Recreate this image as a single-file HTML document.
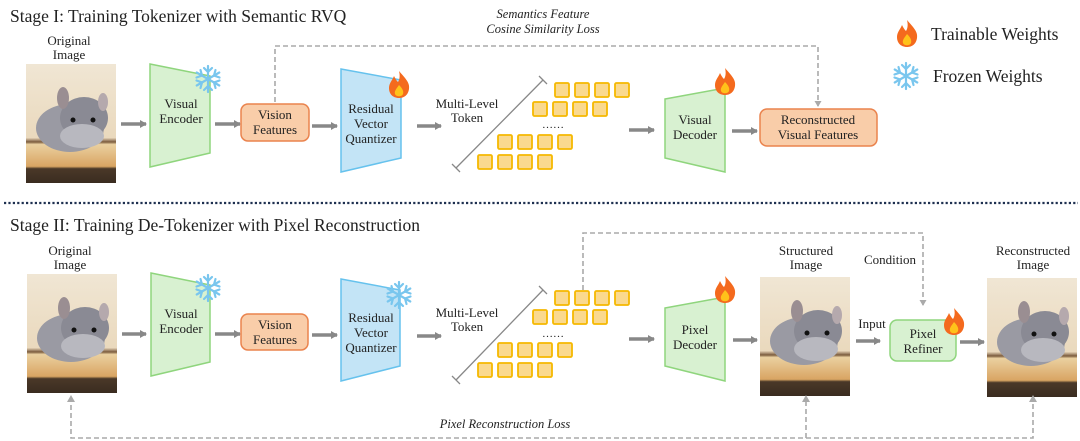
<!DOCTYPE html>
<html><head><meta charset="utf-8"><style>
html,body{margin:0;padding:0;background:#fff;}
svg{display:block;}
text{font-family:"Liberation Serif",serif;fill:#222;}
.l{font-size:13px;text-anchor:middle;}
.t{font-size:17.5px;}
.i{font-style:italic;font-size:12.5px;text-anchor:middle;}
</style></head><body>
<svg width="1080" height="441" viewBox="0 0 1080 441" xmlns="http://www.w3.org/2000/svg">
<defs>
<linearGradient id="bg" x1="0" y1="0" x2="0" y2="1">
<stop offset="0" stop-color="#f0e6d4"/><stop offset="0.62" stop-color="#ead9bd"/>
<stop offset="0.655" stop-color="#7a5a3c"/><stop offset="0.675" stop-color="#ead0a0"/>
<stop offset="0.86" stop-color="#d9a563"/><stop offset="0.88" stop-color="#4a3828"/><stop offset="1" stop-color="#3a2c20"/>
</linearGradient>
<g id="chin">
<rect x="0" y="0" width="90" height="119" fill="url(#bg)"/>
<ellipse cx="44" cy="64" rx="34" ry="24" fill="#9a9aa3"/>
<ellipse cx="58" cy="54" rx="24" ry="21" fill="#8a8a94"/>
<ellipse cx="37" cy="34" rx="6" ry="11" fill="#9a8e92"/>
<ellipse cx="77" cy="38" rx="5" ry="9" fill="#b5a9ad"/>
<ellipse cx="56" cy="72" rx="22" ry="12" fill="#b8b8bf"/>
<circle cx="47" cy="56" r="2.5" fill="#111"/><circle cx="67" cy="56" r="2.5" fill="#111"/>
</g>
<g id="flame">
<path d="M0,-14 C7,-6 11,-2 10,4 C9,11 4,13 0,13 C-5,13 -10,10 -10,3 C-10,-2 -7,-4 -5,-9 C-3,-5 -2,-4 -1,-3 C1,-6 1,-10 0,-14Z" fill="#f46a1e"/>
<path d="M0,0 C3,3 5,6 4,9 C3,12 -3,12 -4,9 C-5,6 -2,3 0,0Z" fill="#ffc21a"/>
</g>
<g id="snow" stroke="#79c6ee" stroke-width="2.2" stroke-linecap="round" fill="none">
<path d="M0,-13V13M-11.3,-6.5L11.3,6.5M-11.3,6.5L11.3,-6.5"/>
<path d="M-4,-11L0,-7L4,-11M-4,11L0,7L4,11M-11.5,-1.5L-6,-3.5L-7.5,-9M11.5,1.5L6,3.5L7.5,9M-11.5,1.5L-6,3.5L-7.5,9M11.5,-1.5L6,-3.5L7.5,-9"/>
</g>
<marker id="ar" markerWidth="8" markerHeight="8" refX="6" refY="4" orient="auto" markerUnits="userSpaceOnUse"><path d="M0,0L7,4L0,8Z" fill="#888"/></marker>
<marker id="da" markerWidth="8" markerHeight="8" refX="5" refY="4" orient="auto" markerUnits="userSpaceOnUse"><path d="M0,0.5L6,4L0,7.5Z" fill="#aaa"/></marker>
<g id="tok" fill="#fad98f" stroke="#f5b800" stroke-width="1.8">
<rect x="77" y="3" width="14" height="14" rx="1.5"/><rect x="97" y="3" width="14" height="14" rx="1.5"/><rect x="117" y="3" width="14" height="14" rx="1.5"/><rect x="137" y="3" width="14" height="14" rx="1.5"/>
<rect x="55" y="22" width="14" height="14" rx="1.5"/><rect x="75" y="22" width="14" height="14" rx="1.5"/><rect x="95" y="22" width="14" height="14" rx="1.5"/><rect x="115" y="22" width="14" height="14" rx="1.5"/>
<rect x="20" y="55" width="14" height="14" rx="1.5"/><rect x="40" y="55" width="14" height="14" rx="1.5"/><rect x="60" y="55" width="14" height="14" rx="1.5"/><rect x="80" y="55" width="14" height="14" rx="1.5"/>
<rect x="0" y="75" width="14" height="14" rx="1.5"/><rect x="20" y="75" width="14" height="14" rx="1.5"/><rect x="40" y="75" width="14" height="14" rx="1.5"/><rect x="60" y="75" width="14" height="14" rx="1.5"/>
</g>
</defs>

<!-- STAGE I -->
<text x="10" y="22" class="t">Stage I: Training Tokenizer with Semantic RVQ</text>
<text x="69" y="45" class="l">Original</text><text x="69" y="59" class="l">Image</text>
<use href="#chin" x="26" y="64"/>
<line x1="121" y1="124" x2="146" y2="124" stroke="#888" stroke-width="3.5" marker-end="url(#ar)"/>
<polygon points="150,64 210,76 210,153 150,167" fill="#d8f1d1" stroke="#8fd57d" stroke-width="1.5"/>
<text x="181" y="108" class="l">Visual</text><text x="181" y="123" class="l">Encoder</text>
<use href="#snow" x="208" y="79"/>
<line x1="215" y1="124" x2="240" y2="124" stroke="#888" stroke-width="3.5" marker-end="url(#ar)"/>
<rect x="241" y="104" width="68" height="37" rx="7" fill="#f9cda9" stroke="#ea834d" stroke-width="1.5"/>
<text x="275" y="119" class="l">Vision</text><text x="275" y="134" class="l">Features</text>
<path d="M275,102V46H818V106" fill="none" stroke="#aaa" stroke-width="1.6" stroke-dasharray="5,3" marker-end="url(#da)"/>
<text x="543" y="18" class="i">Semantics Feature</text><text x="543" y="33" class="i">Cosine Similarity Loss</text>
<line x1="312" y1="126" x2="337" y2="126" stroke="#888" stroke-width="3.5" marker-end="url(#ar)"/>
<polygon points="341,69 401,80 401,158 341,172" fill="#c3e4f6" stroke="#66c2ed" stroke-width="1.5"/>
<text x="371" y="113" class="l">Residual</text><text x="371" y="128" class="l">Vector</text><text x="371" y="143" class="l">Quantizer</text>
<use href="#flame" x="399" y="85"/>
<line x1="417" y1="126" x2="441" y2="126" stroke="#888" stroke-width="3.5" marker-end="url(#ar)"/>
<text x="467" y="108" class="l">Multi-Level</text><text x="467" y="122" class="l">Token</text>
<path d="M456,168L543,80M452,164L460,172M539,76L547,84" stroke="#888" stroke-width="1.3" fill="none"/>
<use href="#tok" x="478" y="80"/>
<text x="553" y="128" class="l" style="font-size:11px">……</text>
<line x1="629" y1="130" x2="654" y2="130" stroke="#888" stroke-width="3.5" marker-end="url(#ar)"/>
<polygon points="665,99 725,88 725,172 665,158" fill="#d8f1d1" stroke="#8fd57d" stroke-width="1.5"/>
<text x="695" y="124" class="l">Visual</text><text x="695" y="139" class="l">Decoder</text>
<use href="#flame" x="725" y="82"/>
<line x1="732" y1="131" x2="757" y2="131" stroke="#888" stroke-width="3.5" marker-end="url(#ar)"/>
<rect x="760" y="109" width="117" height="37" rx="7" fill="#f9cda9" stroke="#ea834d" stroke-width="1.5"/>
<text x="818" y="124" class="l">Reconstructed</text><text x="818" y="139" class="l">Visual Features</text>

<use href="#flame" x="907" y="34"/>
<text x="931" y="40" class="t">Trainable Weights</text>
<use href="#snow" x="906" y="76"/>
<text x="933" y="82" class="t">Frozen Weights</text>

<line x1="4" y1="203" x2="1078" y2="203" stroke="#1e3050" stroke-width="2.2" stroke-dasharray="2.2,2.2"/>

<!-- STAGE II -->
<text x="10" y="231" class="t">Stage II: Training De-Tokenizer with Pixel Reconstruction</text>
<text x="70" y="255" class="l">Original</text><text x="70" y="269" class="l">Image</text>
<use href="#chin" x="27" y="274"/>
<line x1="122" y1="334" x2="146" y2="334" stroke="#888" stroke-width="3.5" marker-end="url(#ar)"/>
<polygon points="151,273 210,285 210,362 151,376" fill="#d8f1d1" stroke="#8fd57d" stroke-width="1.5"/>
<text x="181" y="318" class="l">Visual</text><text x="181" y="333" class="l">Encoder</text>
<use href="#snow" x="208" y="288"/>
<line x1="215" y1="334" x2="240" y2="334" stroke="#888" stroke-width="3.5" marker-end="url(#ar)"/>
<rect x="241" y="314" width="67" height="36" rx="7" fill="#f9cda9" stroke="#ea834d" stroke-width="1.5"/>
<text x="275" y="329" class="l">Vision</text><text x="275" y="344" class="l">Features</text>
<line x1="312" y1="335" x2="337" y2="335" stroke="#888" stroke-width="3.5" marker-end="url(#ar)"/>
<polygon points="341,279 400,290 400,366 341,381" fill="#c3e4f6" stroke="#66c2ed" stroke-width="1.5"/>
<text x="371" y="322" class="l">Residual</text><text x="371" y="337" class="l">Vector</text><text x="371" y="352" class="l">Quantizer</text>
<use href="#snow" x="399" y="295"/>
<line x1="417" y1="336" x2="441" y2="336" stroke="#888" stroke-width="3.5" marker-end="url(#ar)"/>
<text x="467" y="317" class="l">Multi-Level</text><text x="467" y="331" class="l">Token</text>
<path d="M456,380L543,290M452,376L460,384M539,286L547,294" stroke="#888" stroke-width="1.3" fill="none"/>
<use href="#tok" x="478" y="288"/>
<text x="553" y="337" class="l" style="font-size:11px">……</text>
<path d="M583,290V233H923V305" fill="none" stroke="#aaa" stroke-width="1.6" stroke-dasharray="5,3" marker-end="url(#da)"/>
<line x1="629" y1="339" x2="654" y2="339" stroke="#888" stroke-width="3.5" marker-end="url(#ar)"/>
<polygon points="665,308 725,297 725,381 665,366" fill="#d8f1d1" stroke="#8fd57d" stroke-width="1.5"/>
<text x="695" y="334" class="l">Pixel</text><text x="695" y="349" class="l">Decoder</text>
<use href="#flame" x="725" y="290"/>
<line x1="733" y1="340" x2="757" y2="340" stroke="#888" stroke-width="3.5" marker-end="url(#ar)"/>
<text x="806" y="255" class="l">Structured</text><text x="806" y="269" class="l">Image</text>
<use href="#chin" x="760" y="277"/>
<text x="890" y="264" class="l">Condition</text>
<text x="872" y="328" class="l">Input</text>
<line x1="856" y1="341" x2="880" y2="341" stroke="#888" stroke-width="3.5" marker-end="url(#ar)"/>
<rect x="890" y="320" width="66" height="41" rx="7" fill="#d8f1d1" stroke="#8fd57d" stroke-width="1.5"/>
<text x="923" y="338" class="l">Pixel</text><text x="923" y="353" class="l">Refiner</text>
<use href="#flame" x="954" y="322"/>
<line x1="960" y1="342" x2="984" y2="342" stroke="#888" stroke-width="3.5" marker-end="url(#ar)"/>
<text x="1033" y="255" class="l">Reconstructed</text><text x="1033" y="269" class="l">Image</text>
<use href="#chin" x="987" y="278"/>
<path d="M71,397V438H1033V397M806,438V397" fill="none" stroke="#aaa" stroke-width="1.6" stroke-dasharray="5,3"/>
<path d="M67,402L71,395L75,402Z M802,402L806,395L810,402Z M1029,402L1033,395L1037,402Z" fill="#aaa"/>
<text x="505" y="428" class="i">Pixel Reconstruction Loss</text>
</svg>
</body></html>
